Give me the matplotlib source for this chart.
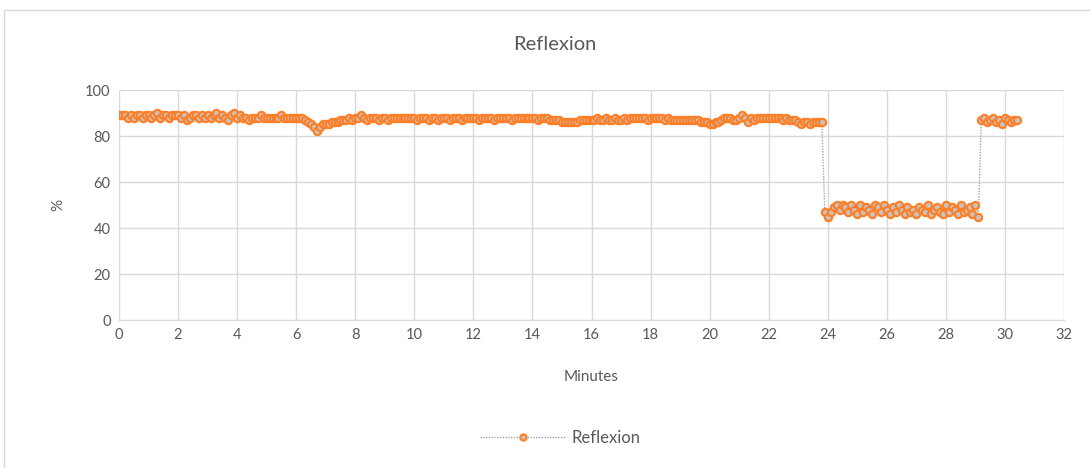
import numpy as np
import matplotlib
matplotlib.use("Agg")
import matplotlib.pyplot as plt
from matplotlib.patches import Rectangle

# one reading every 0.1 minute, starting at 0
t_start = 0.0
t_step = 0.1
reflexion = [
    89, 89, 89, 88, 89, 88, 89, 89, 88, 89,   # 0
    89, 88, 89, 90, 88, 89, 89, 88, 89, 89,   # 1
    89, 88, 89, 87, 88, 89, 89, 88, 89, 88,   # 2
    89, 88, 89, 90, 88, 89, 88, 87, 89, 90,   # 3
    88, 89, 88, 88, 87, 88, 88, 88, 89, 88,   # 4
    88, 88, 88, 88, 88, 89, 88, 88, 88, 88,   # 5
    88, 88, 88, 87, 86, 85, 84, 82, 84, 85,   # 6
    85, 85, 86, 86, 86, 87, 87, 87, 88, 87,   # 7
    88, 88, 89, 88, 87, 88, 88, 88, 87, 88,   # 8
    88, 87, 88, 88, 88, 88, 88, 88, 88, 88,   # 9
    88, 87, 88, 88, 88, 87, 88, 88, 87, 88,   # 10
    88, 88, 87, 88, 88, 88, 87, 88, 88, 88,   # 11
    88, 88, 87, 88, 88, 88, 88, 87, 88, 88,   # 12
    88, 88, 88, 87, 88, 88, 88, 88, 88, 88,   # 13
    88, 88, 87, 88, 88, 88, 87, 87, 87, 87,   # 14
    86, 86, 86, 86, 86, 86, 87, 87, 87, 87,   # 15
    87, 87, 88, 87, 87, 88, 87, 87, 88, 87,   # 16
    87, 88, 87, 88, 88, 88, 88, 88, 88, 87,   # 17
    88, 88, 88, 88, 88, 87, 88, 87, 87, 87,   # 18
    87, 87, 87, 87, 87, 87, 87, 86, 86, 86,   # 19
    85, 85, 86, 86, 87, 88, 88, 88, 87, 87,   # 20
    88, 89, 88, 86, 88, 87, 88, 88, 88, 88,   # 21
    88, 88, 88, 88, 88, 87, 88, 87, 87, 87,   # 22
    86, 85, 86, 86, 85, 86, 86, 86, 86, 47,   # 23
    45, 47, 49, 50, 48, 50, 49, 47, 50, 48,   # 24
    46, 50, 47, 49, 48, 46, 50, 49, 47, 50,   # 25
    48, 46, 49, 47, 50, 48, 46, 49, 47, 48,   # 26
    46, 49, 48, 47, 50, 46, 48, 49, 47, 46,   # 27
    50, 47, 49, 48, 46, 50, 47, 48, 49, 46,   # 28
    50, 45, 87, 88, 86, 87, 88, 86, 87, 85,   # 29
    88, 87, 86, 87, 87,                       # 30
]
minutes = t_start + t_step * np.arange(len(reflexion))

x_ticks = list(range(0, 33, 2))
y_ticks = list(range(0, 101, 20))

GREY_TXT = "#595959"
ORANGE = "#FF7F27"

plt.rcParams["font.family"] = ["Lato", "DejaVu Sans"]

fig = plt.figure(figsize=(10.9, 4.68), dpi=100)
fig.patches.append(Rectangle((4 / 1090, -0.1), 1.2, 1 - 10 / 468 + 0.1,
                             transform=fig.transFigure, fill=False,
                             edgecolor="#d9d9d9", linewidth=1.0))
ax = fig.add_axes([119 / 1090, 1 - 320 / 468, (1064 - 119) / 1090, 230 / 468])

ax.plot(minutes, reflexion, color="#a5a5a5", linestyle=(0, (1, 1)), linewidth=1.0,
        marker="o", markersize=5.2, markerfacecolor="#c4c4c4",
        markeredgecolor=ORANGE, markeredgewidth=1.6, label="Reflexion")

ax.set_xlim(0, 32)
ax.set_ylim(0, 100)
ax.set_xticks(x_ticks)
ax.set_yticks(y_ticks)
ax.grid(True, color="#d9d9d9", linewidth=1.0)
ax.set_axisbelow(True)
for s in ("top", "right", "left"):
    ax.spines[s].set_visible(False)
ax.spines["bottom"].set_color("#d9d9d9")
ax.tick_params(length=0, colors=GREY_TXT, labelsize=10.5, pad=6)

fig.text(555 / 1090, 1 - 44 / 468, "Reflexion", color=GREY_TXT, fontsize=14.5,
         ha="center", va="center")
ax.set_xlabel("Minutes", color=GREY_TXT, fontsize=11, labelpad=20)
ax.set_ylabel("%", color=GREY_TXT, fontsize=11, labelpad=14)

leg = fig.legend(loc="center", bbox_to_anchor=(560 / 1090, 1 - 438 / 468), frameon=False,
                 fontsize=12, handlelength=5.2, handletextpad=0.3, markerscale=0.85)
for txt in leg.get_texts():
    txt.set_color(GREY_TXT)

fig.savefig("out.png", dpi=100)
